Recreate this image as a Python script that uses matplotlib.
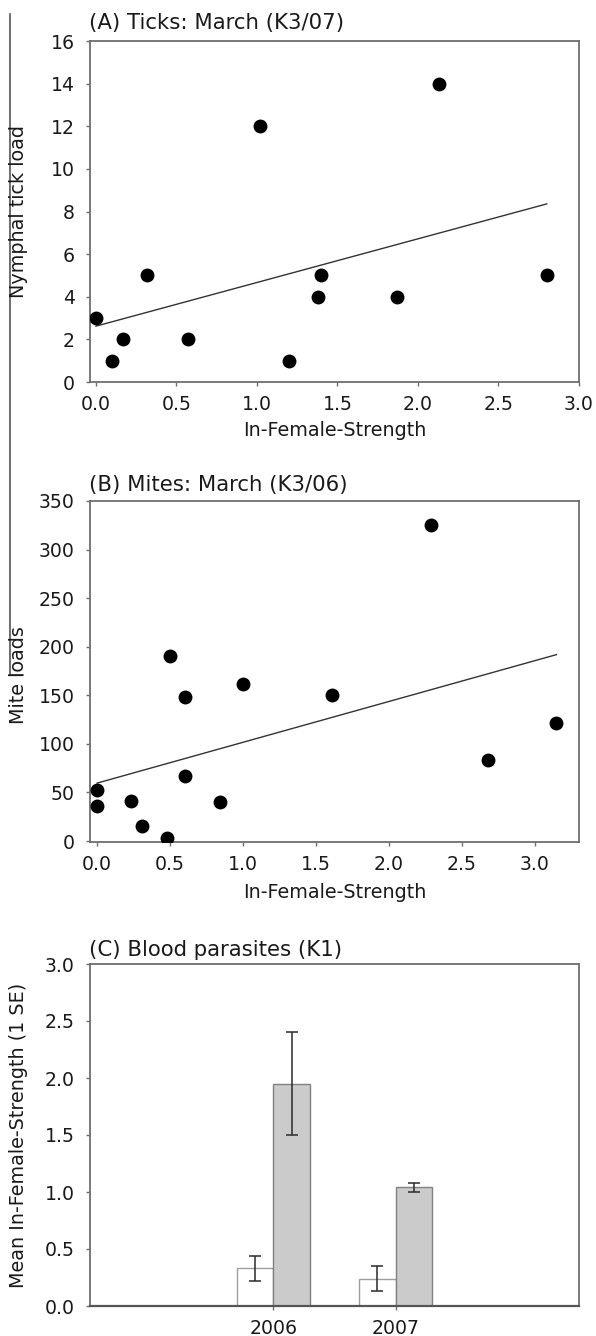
import numpy as np
import matplotlib
matplotlib.use('Agg')
import matplotlib.pyplot as plt
from matplotlib.lines import Line2D

# ---------------- data ----------------
# Panel A: ticks (March, K3/07)
tick_strength = [0.00, 0.10, 0.17, 0.32, 0.57, 1.02, 1.20, 1.38, 1.40, 1.87, 2.13, 2.80]
tick_load = [3, 1, 2, 5, 2, 12, 1, 4, 5, 4, 14, 5]

# Panel B: mites (March, K3/06)
mite_strength = [0.00, 0.00, 0.235, 0.305, 0.48, 0.50, 0.60, 0.60, 0.845, 1.00, 1.61, 2.29, 2.68, 3.15]
mite_load = [53, 36, 41, 15, 3, 190, 148, 67, 40, 162, 150, 325, 83, 122]

# Panel C: blood parasites (K1)
years = ['2006', '2007']
mean_white = [0.33, 0.24]
se_white = [0.11, 0.11]
mean_grey = [1.95, 1.04]
se_grey = [0.45, 0.042]

titles = ['(A) Ticks: March (K3/07)', '(B) Mites: March (K3/06)', '(C) Blood parasites (K1)']
ylabels = ['Nymphal tick load', 'Mite loads', 'Mean In-Female-Strength (1 SE)']
xlabel = 'In-Female-Strength'

# ---------------- style ----------------
W, H = 596, 1336
SPINE = '#6e6e6e'
TXT = '#1a1a1a'
TICK_FS = 13.6
LAB_FS = 13.8
TITLE_FS = 15.3

fig = plt.figure(figsize=(W / 100, H / 100), dpi=100)

def px_rect(left, top, right, bottom):
    return [left / W, 1 - bottom / H, (right - left) / W, (bottom - top) / H]

axA = fig.add_axes(px_rect(90, 41, 579, 382))
axB = fig.add_axes(px_rect(90, 501, 579, 842))
axC = fig.add_axes(px_rect(90, 964, 579, 1306))

for ax in (axA, axB, axC):
    for s in ax.spines.values():
        s.set_color(SPINE)
        s.set_linewidth(1.3)
    ax.tick_params(direction='out', length=3, width=1.0, color=SPINE,
                   labelsize=TICK_FS, labelcolor=TXT)
    ax.tick_params(axis='y', pad=7.9)
    ax.tick_params(axis='x', pad=6)

def scatter_fit(ax, x, y):
    x = np.asarray(x, float)
    y = np.asarray(y, float)
    slope, icpt = np.polyfit(x, y, 1)
    xs = np.array([x.min(), x.max()])
    ax.plot(xs, icpt + slope * xs, color='#333333', lw=1.0, zorder=2)
    ax.scatter(x, y, s=100, color='black', zorder=3, linewidths=0)

# Panel A
scatter_fit(axA, tick_strength, tick_load)
axA.set_xlim(-0.037, 3.0)
axA.set_ylim(0, 16)
axA.set_xticks(np.arange(0, 3.01, 0.5))
axA.set_xticklabels([f'{v:.1f}' for v in np.arange(0, 3.01, 0.5)])
axA.set_yticks(np.arange(0, 17, 2))

# Panel B
scatter_fit(axB, mite_strength, mite_load)
axB.set_xlim(-0.049, 3.305)
axB.set_ylim(-1, 350)
axB.set_xticks(np.arange(0, 3.01, 0.5))
axB.set_xticklabels([f'{v:.1f}' for v in np.arange(0, 3.01, 0.5)])
axB.set_yticks(np.arange(0, 351, 50))

# Panel C
xc = np.arange(len(years))
bw = 0.3
axC.bar(xc - bw / 2, mean_white, bw, color='white', edgecolor='#9e9e9e', linewidth=1.0, zorder=2)
axC.bar(xc + bw / 2, mean_grey, bw, color='#cbcbcb', edgecolor='#808080', linewidth=1.0, zorder=2)
axC.errorbar(xc - bw / 2, mean_white, yerr=se_white, fmt='none', ecolor='#2a2a2a',
             elinewidth=1.1, capsize=4.2, capthick=1.1, zorder=3)
axC.errorbar(xc + bw / 2, mean_grey, yerr=se_grey, fmt='none', ecolor='#2a2a2a',
             elinewidth=1.1, capsize=4.2, capthick=1.1, zorder=3)
axC.set_xlim(-1.5, 2.5)
axC.set_ylim(0, 3.0)
axC.set_xticks(xc)
axC.set_xticklabels(years)
axC.set_yticks(np.arange(0, 3.01, 0.5))
axC.set_yticklabels([f'{v:.1f}' for v in np.arange(0, 3.01, 0.5)])
axC.spines['bottom'].set_color('#555555')
axC.spines['bottom'].set_linewidth(1.6)
axC.spines['bottom'].set_zorder(4)

# ---------------- text ----------------
def ftext(xpx, ypx, s, **kw):
    fig.text(xpx / W, 1 - ypx / H, s, color=TXT, **kw)

# titles
for s, yc in zip(titles, [23.5, 485, 950]):
    ftext(89, yc, s, fontsize=TITLE_FS, ha='left', va='center')

# y labels
for s, yc in zip(ylabels, [212, 675, 1135]):
    ftext(19, yc, s, fontsize=LAB_FS, rotation=90, ha='center', va='center')

# x labels
for yc in [430, 893]:
    ftext(334.5, yc, xlabel, fontsize=LAB_FS, ha='center', va='center')

# left bracket line
fig.add_artist(Line2D([10 / W, 10 / W, 23 / W], [1 - 14 / H, 1 - 675 / H, 1 - 675 / H],
                      color='#555555', lw=1.2))

fig.savefig('out.png', dpi=100)
